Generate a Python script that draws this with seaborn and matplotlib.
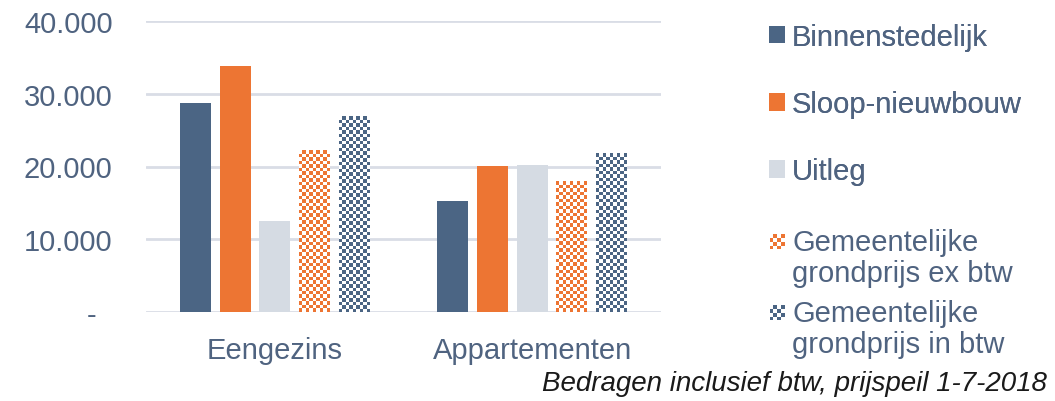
import numpy as np
import pandas as pd
import matplotlib
matplotlib.use("Agg")
import matplotlib.pyplot as plt
import seaborn as sns
from matplotlib.colors import ListedColormap
from matplotlib.patches import Rectangle
from matplotlib.legend_handler import HandlerBase

# Data
categories = ["Eengezins", "Appartementen"]
series = ["Binnenstedelijk", "Sloop-nieuwbouw", "Uitleg",
          "Gemeentelijke\ngrondprijs ex btw", "Gemeentelijke\ngrondprijs in btw"]
binnenstedelijk = [28750, 15300]
sloop_nieuwbouw = [33850, 20050]
uitleg = [12450, 20200]
grondprijs_ex = [22200, 17950]
grondprijs_in = [26900, 21800]
y_ticks = [0, 10000, 20000, 30000, 40000]
y_labels = ["-  ", "10.000", "20.000", "30.000", "40.000"]

DARK = "#4b6584"
ORANGE = "#ed7533"
LIGHT = "#d5dbe3"
GRID = "#d9dde6"
TEXT = "#4f6380"
colors = [DARK, ORANGE, LIGHT, ORANGE, DARK]
checkered = [False, False, False, True, True]

values = [binnenstedelijk, sloop_nieuwbouw, uitleg, grondprijs_ex, grondprijs_in]
df = pd.DataFrame([
    {"categorie": c, "reeks": s, "waarde": v[i]}
    for s, v in zip(series, values)
    for i, c in enumerate(categories)
])

sns.set_theme(style="white")
plt.rcParams["font.family"] = ["Liberation Sans", "DejaVu Sans"]

fig = plt.figure(figsize=(10.55, 4.02), dpi=100)
ax = fig.add_axes([146 / 1055, 1 - 313 / 402, (661 - 146) / 1055, (313 - 22) / 402])

sns.barplot(data=df, x="categorie", y="waarde", hue="reeks", hue_order=series,
            palette=colors, width=0.77, gap=0.22, saturation=1, legend=False,
            edgecolor="none", ax=ax)

ax.set_xlim(-0.5, 1.5)
ax.set_ylim(0, 40000)
ax.set_yticks(y_ticks)
ax.set_yticklabels(y_labels)
ax.set_xlabel("")
ax.set_ylabel("")
ax.yaxis.grid(True, color=GRID, linewidth=2)
ax.set_axisbelow(True)
sns.despine(ax=ax, left=True, bottom=True)
ax.tick_params(axis="y", length=0, pad=24, labelsize=21, labelcolor=TEXT)
ax.tick_params(axis="x", length=0, pad=17, labelsize=21, labelcolor=TEXT)

# checkered fill for the grondprijs bars, sized from each bar's own extent
fig.canvas.draw()
sq = 3.5
for container, color, chk in zip(ax.containers, colors, checkered):
    if not chk:
        continue
    for bar in container:
        x0, y0 = bar.get_x(), bar.get_y()
        x1, y1 = x0 + bar.get_width(), y0 + bar.get_height()
        p0 = ax.transData.transform((x0, y0))
        p1 = ax.transData.transform((x1, y1))
        nx = max(1, int(round((p1[0] - p0[0]) / sq)))
        ny = max(1, int(round((p1[1] - p0[1]) / sq)))
        board = np.indices((ny, nx)).sum(axis=0) % 2
        bar.set_facecolor("white")
        im = ax.imshow(board, extent=(x0, x1, y0, y1), origin="lower",
                       aspect="auto", interpolation="nearest",
                       cmap=ListedColormap([color, "white"]), zorder=bar.get_zorder())
        im.set_clip_path(bar)
ax.set_xlim(-0.5, 1.5)
ax.set_ylim(0, 40000)
ax.set_aspect("auto")


class CheckerHandler(HandlerBase):
    # small checkerboard square, sitting on the first line of a two-line label
    def __init__(self, color, n=4, size_em=0.52, offset_em=0.65):
        super().__init__()
        self.color = color
        self.n = n
        self.size_em = size_em
        self.offset_em = offset_em

    def create_artists(self, legend, orig_handle, xdescent, ydescent,
                       width, height, fontsize, trans):
        size = self.size_em * fontsize
        cell = size / self.n
        x0 = -xdescent + (width - size)
        y0 = self.offset_em * fontsize
        artists = []
        for i in range(self.n):
            for j in range(self.n):
                c = self.color if (i + j) % 2 == 0 else "white"
                r = Rectangle((x0 + i * cell, y0 + j * cell), cell, cell,
                              facecolor=c, edgecolor="none", transform=trans)
                artists.append(r)
        return artists


solid = [Rectangle((0, 0), 1, 1, facecolor=c, edgecolor="none") for c in colors[:3]]
leg1 = fig.legend(solid, series[:3], loc="upper left", bbox_to_anchor=(757 / 1055, 1 - 12 / 402),
                  frameon=False, fontsize=21, labelcolor=TEXT, labelspacing=1.35,
                  handlelength=0.55, handleheight=0.55, handletextpad=0.25, borderaxespad=0)

chk_handles = [Rectangle((0, 0), 1, 1, facecolor=c) for c in colors[3:]]
leg2 = fig.legend(chk_handles, series[3:], loc="upper left",
                  bbox_to_anchor=(757 / 1055, 1 - 217 / 402),
                  frameon=False, fontsize=21, labelcolor=TEXT, labelspacing=0.39,
                  handlelength=0.55, handleheight=0.7, handletextpad=0.25, borderaxespad=0,
                  handler_map={chk_handles[0]: CheckerHandler(colors[3]),
                               chk_handles[1]: CheckerHandler(colors[4])})
for t in leg2.get_texts():
    t.set_linespacing(1.16)
fig.add_artist(leg1)

fig.text(1047 / 1055, 1 - 384 / 402, "Bedragen inclusief btw, prijspeil 1-7-2018",
         ha="right", va="center", fontsize=20, style="italic", color="#1a1a1a")

fig.savefig("out.png", dpi=100)
